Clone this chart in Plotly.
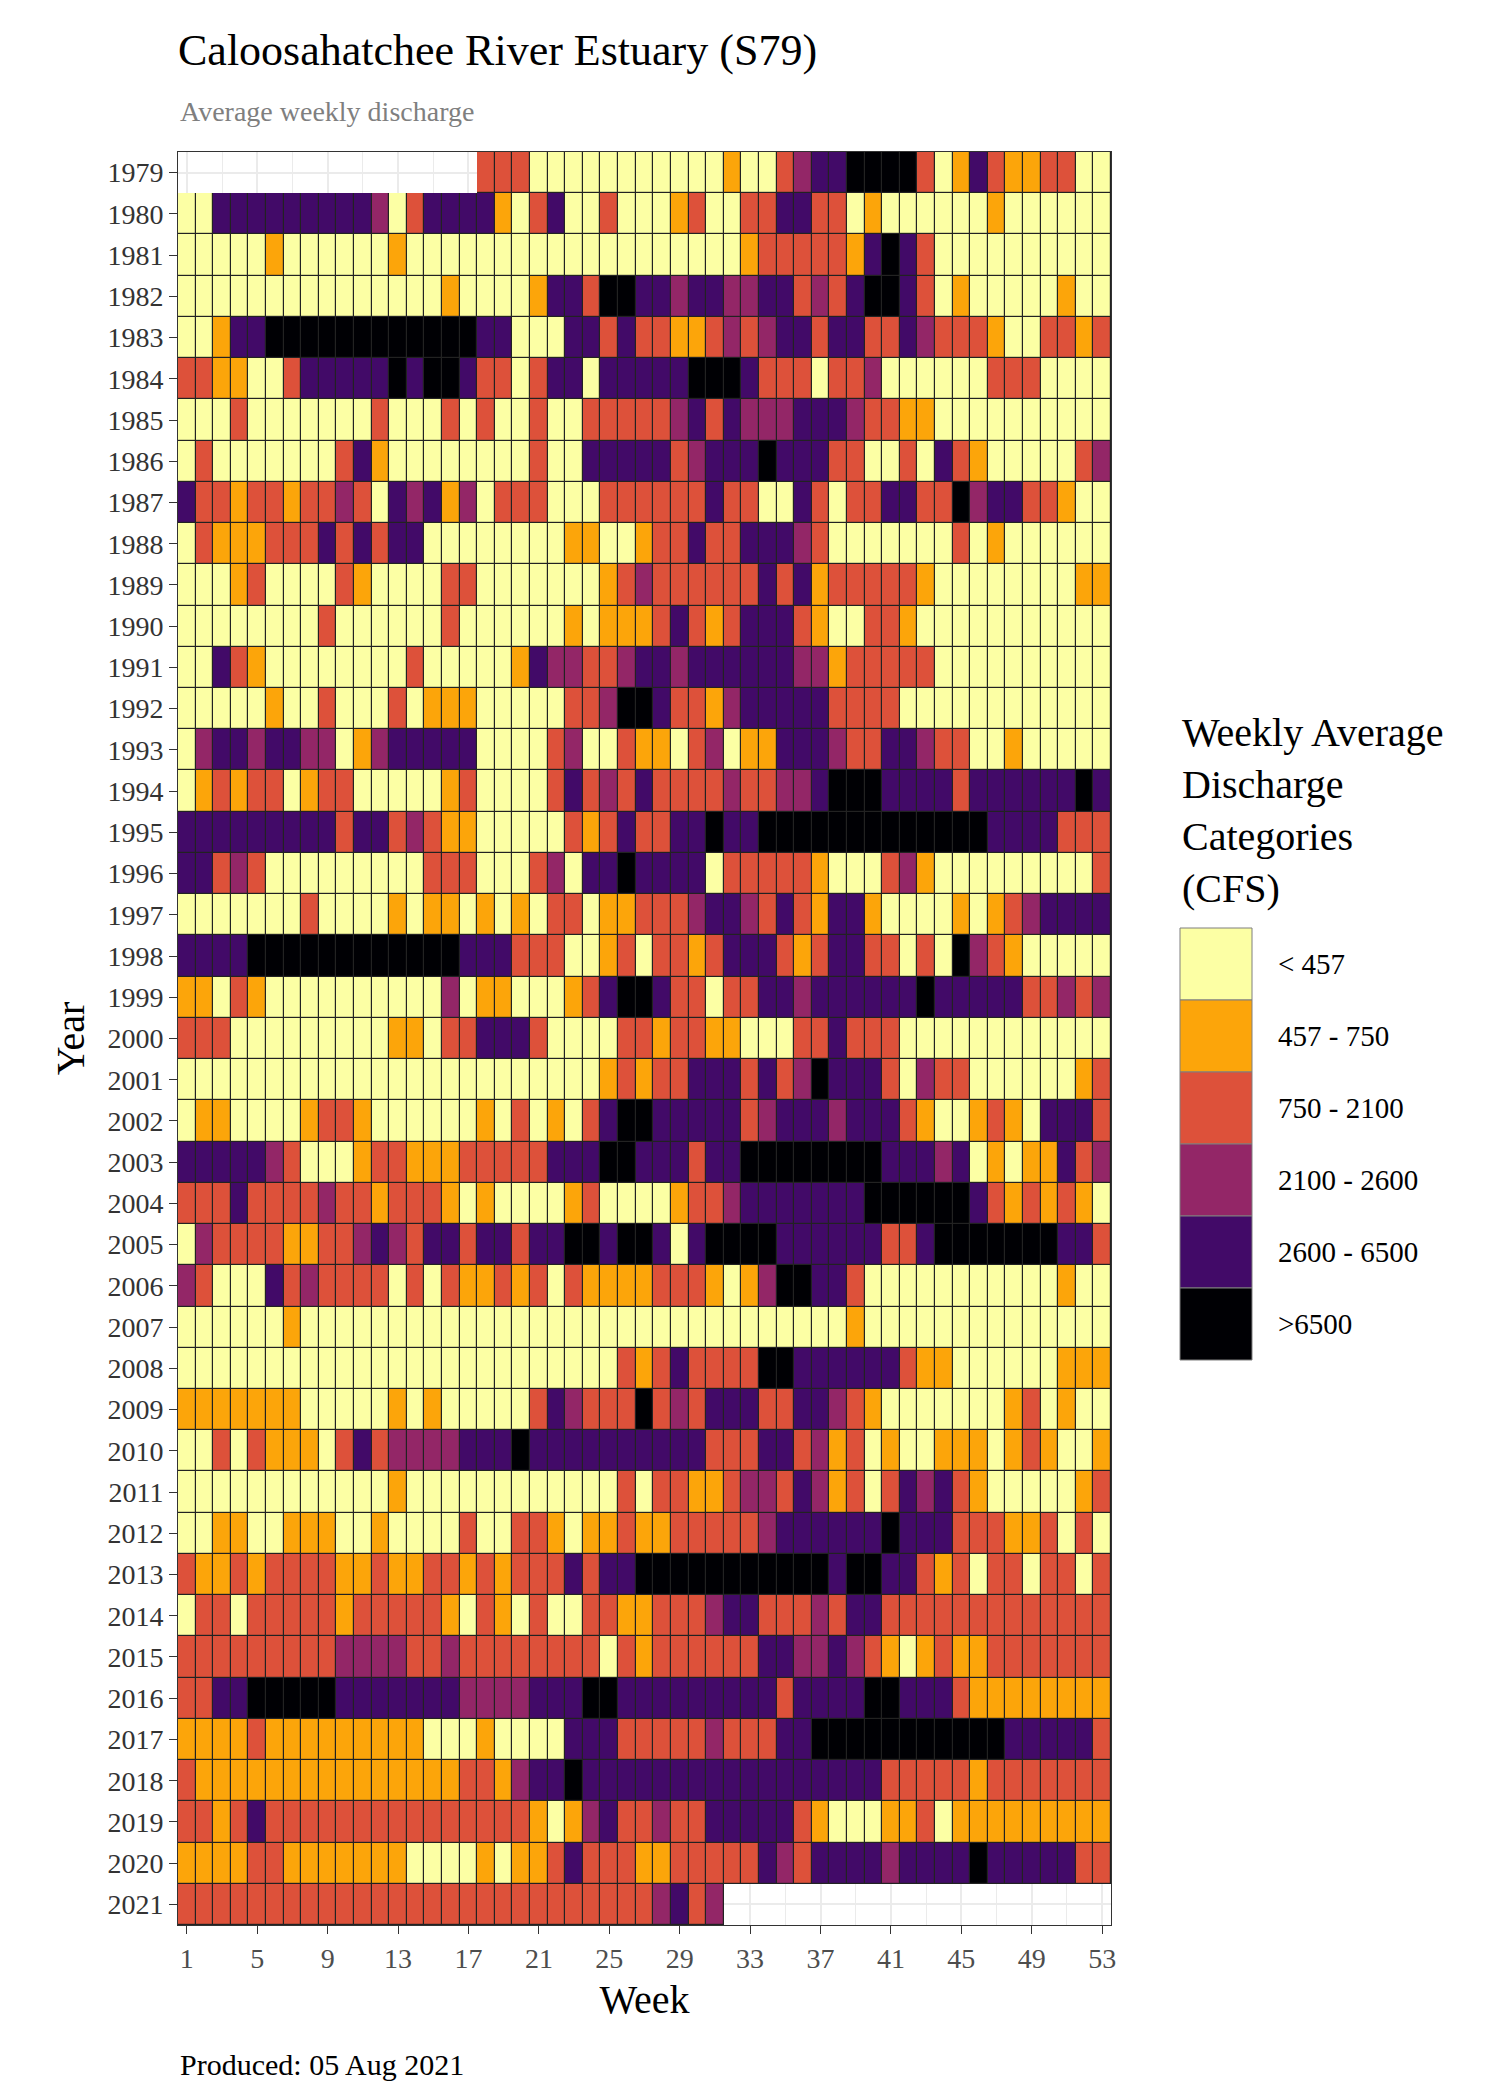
import plotly.graph_objects as go

# Weekly discharge category per year, week 1..53
# Y <457, O 457-750, R 750-2100, M 2100-2600, P 2600-6500, K >6500, . no data
years = list(range(1979, 2022))
weeks = list(range(1, 54))

rows = {
    1979: ". . . . . . . . . . . . . . . . . RRR YYYYYYYYYYY O YY R M PP KKKK R Y O P R OO RR YY",
    1980: "YY PPPPPPPPP M Y R PPPP O Y R P YY R YYY O R YY RR PP RR Y O YYYYYY O YYYYYY",
    1981: "YYYYY O YYYYYY O YYYYYYYYYYYYYYYYYYY O RRRRR O P K P R YYYYYYYYYY",
    1982: "YYYYYYYYYYYYYYY O YYYY O PP R KK PP M PP MM PP R M R P KK P R Y O YYYYY O YY",
    1983: "YY O PP KKKKKKKKKKKK PP YYY PP R P RR OO R M R M PP R PP RR P M RRR O YY RR O R",
    1984: "RR OO YY R PPPPP K P KK P RR Y R PP Y PPPPP KKK P RRR Y RR M YYYYYY RRR YYYY",
    1985: "YYY R YYYYYYY R YYY R Y R YY R YY RRRRR M P R P MMM PPP M RR OO YYYYYYYYYY",
    1986: "Y R YYYYYYY R P O YYYYYYYY R YY PPPPP R M PPP K PPP RR YY R Y P R O YYYYY R M",
    1987: "P RR O RR O RR M R Y P M P O M Y RRR YYY RRRRRR P RR YY P R Y RR PP RR K M PP RR O YY",
    1988: "Y R OOO RRR P R P R PP YYYYYYYY OO YY O RR P RR PPP M R YYYYYYY R Y O YYYYYY",
    1989: "YYY O R YYYY R O YYYY RR YYYYYYY O R M RRRRRR P R P O RRRRR O YYYYYYYY OO",
    1990: "YYYYYYYY R YYYYYY R YYYYYY O Y OOO R P R O R PPP R O YY RR O YYYYYYYYYYY",
    1991: "YY P R O YYYYYYYY R YYYYY O P MM RR M PP M PPPPPP MM O RRRRR YYYYYYYYYY",
    1992: "YYYYY O YY R YYY R Y OOO YYYYY RR M KK P RR O M PPPPP RRRR YYYYYYYYYYYY",
    1993: "Y M PP M PP MM Y O M PPPPP YYYY R M YY R OO Y R M Y OO PPP M RR PP M RR YY O YYYYY",
    1994: "Y O R O RR Y O RR YYYYY O R YYYY R P R M R P RRRR M RR MM P KKK PPPP R PPPPPP K P",
    1995: "PPPPPPPPP R PP R M R OO YYYYY R O R P RR PP K PP KKKKKKKKKKKKK PPPP RRR",
    1996: "PP R M R YYYYYYYYY RRR YYY R M Y PP K PPPP Y RRRRR O YYY R M O YYYYYYYYY R",
    1997: "YYYYYYY R YYYY O Y OO Y O Y O Y RR Y OO RRR M PP M R P R O PP O YYYY O Y O R M PPPP",
    1998: "PPPP KKKKKKKKKKKK PPP RRR YY O R Y RR O R PPP R O R PP RR Y R Y K M R O YYYYY",
    1999: "OO Y R O YYYYYYYYYY M Y OO YYY O R P KK P RR Y RR PP M PPPPPP K PPPPP RR M R M",
    2000: "RRR YYYYYYYYY OO Y RR PPP R YYYY RR O RR OO YYY RR P RRR YYYYYYYYYYYY",
    2001: "YYYYYYYYYYYYYYYYYYYYYYYY O R O RR PPP R P R M K PPP R Y M RR YYYYYY O R",
    2002: "Y OO YYYY O RR O YYYYYY O Y R Y O Y R P KK PPPPP R M PPP M PPP R O YY O R O Y PPP R",
    2003: "PPPPP M R YYY O RR OOO RRRRR PPP KK PPP R PP KKKKKKKK PPP M P Y O Y OO P R M",
    2004: "RRR P RRRR M RR O RRR O Y O YYYY O R YYYY O RR M PPPPPPP KKKKKK P R O R O R O Y",
    2005: "Y M RRRR OO RR M P M R PP R PP R PP KK P KK P Y P KKKK PPPPPP RR P KKKKKKK PP R",
    2006: "M R YYY P R M RRRR Y R Y R OO R O R Y R OOOO RRR O Y O M KK PP R YYYYYYYYYYY O YY",
    2007: "YYYYYY O YYYYYYYYYYYYYYYYYYYYYYYYYYYYYYY O YYYYYYYYYYYYYY",
    2008: "YYYYYYYYYYYYYYYYYYYYYYYYY R O R P RRRR KK PPPPPP R OO YYYYYY OOO",
    2009: "OOOOOOO YYYYY O Y O YYYYY R P M RRR K R M R PPP RR PP M R O YYYYYYY O R Y O YY",
    2010: "YY R Y R OOO Y R P R MMMM PPP K PPPPPPPPPP RRR PP R M O R Y O YY OOO Y O R O YY O",
    2011: "YYYYYYYYYYYY O YYYYYYYYYYYY R Y RR OO R MM R P M O R Y R P M P R O YYYYY O R",
    2012: "YY OO YY OOO YY O YYYY R YY RR O Y OO R OO RRRRR M PPPPPP K PPP RRR OO R Y R Y",
    2013: "R OO R O RRRR OO R OO RR O R O RRR P R PP KKKKKKKKKKK P KK PP R O R Y RR Y RR Y R",
    2014: "Y RR Y RRRRR O RRRRR O Y R O Y R YY RR OO RRR M PP RRR M R PP RRRRRRRRRRRRR",
    2015: "RRRRRRRRR MMMM RR M RRRRRRRR Y R O RRRRRR PP MM P M R O Y O R OO RRRRRRR",
    2016: "RR PP KKKKK PPPPPPP MMMM PPP KK PPPPPPPPP R PPPP KK PPP R OOOOOOOO",
    2017: "OOOO R OOOOOOOOO YYY O YYYY PPP RRRRR M RRR PP KKKKKKKKKKK PPPPP R",
    2018: "R OOOOOOOOOOOOOOO RR O M PP K PPPPPPPPPPPPPPPPP RRRRR O RRRRRRR",
    2019: "RR O R P RRRRRRRRRRRRRRR O Y O M P RR M RR PPPPP R O YYY OO R Y OOOOOOOOO",
    2020: "OOOO RR OOOOOOO YYYY O Y OO R P RRR OO RRRRR P M R PPPP M PPPP K PPPPP RR",
    2021: "RRRRRRRRRRRRRRRRRRRRRRRRRRR M P R M . . . . . . . . . . . . . . . . . . . . . .",
}

codes = ["Y", "O", "R", "M", "P", "K"]
labels = ["< 457", "457 - 750", "750 - 2100", "2100 - 2600", "2600 - 6500", ">6500"]
colors = ["#FCFFA4", "#FCA50A", "#DD513A", "#932667", "#420A68", "#000004"]

z = []
for yr in years:
    s = rows[yr].replace(" ", "")
    s = (s + "." * 53)[:53]
    z.append([codes.index(c) if c in codes else None for c in s])

cscale = []
for i, c in enumerate(colors):
    cscale.append([i / 6, c])
    cscale.append([(i + 1) / 6, c])

mask = [[0 if v is not None else None for v in r] for r in z]

fig = go.Figure()
fig.add_trace(go.Heatmap(x=weeks, y=years, z=mask, colorscale=[[0, "#222222"], [1, "#222222"]],
                         showscale=False, hoverinfo="skip"))
fig.add_trace(go.Heatmap(x=weeks, y=years, z=z, colorscale=cscale, zmin=-0.5, zmax=5.5,
                         xgap=1.2, ygap=1.2, showscale=False))

FONT = "Liberation Serif"
L, R, T, B = 170, 1103, 144, 1917
W, H = 1500, 2100


def px(x):
    return (x - L) / (R - L)


def py(y):
    return (B - y) / (B - T)


# legend drawn manually (ggplot style keys)
ann = []
ann.append(dict(x=px(1172), y=py(700), xref="paper", yref="paper", xanchor="left", yanchor="top",
                text="Weekly Average<br>Discharge<br>Categories<br>(CFS)", showarrow=False, align="left",
                font=dict(family=FONT, size=40, color="black")))
shapes = []
for i, (lab, col) in enumerate(zip(labels, colors)):
    y0 = 920 + i * 72
    shapes.append(dict(type="rect", xref="paper", yref="paper", x0=px(1172), x1=px(1244),
                       y0=py(y0), y1=py(y0 + 72), fillcolor=col, line=dict(color="#7f7f7f", width=1)))
    ann.append(dict(x=px(1268), y=py(y0 + 36), xref="paper", yref="paper", xanchor="left",
                    yanchor="middle", text=lab, showarrow=False,
                    font=dict(family=FONT, size=29, color="black")))

ann.append(dict(x=px(170), y=py(2056), xref="paper", yref="paper", xanchor="left", yanchor="middle",
                text="Produced: 05 Aug 2021", showarrow=False, font=dict(family=FONT, size=30, color="black")))
ann.append(dict(x=px(170), y=py(104), xref="paper", yref="paper", xanchor="left", yanchor="middle",
                text="Average weekly discharge", showarrow=False, font=dict(family=FONT, size=28, color="#7f7f7f")))

fig.update_layout(
    width=W, height=H,
    margin=dict(l=L, r=W - R, t=T, b=H - B),
    paper_bgcolor="white", plot_bgcolor="white",
    title=dict(text="Caloosahatchee River Estuary (S79)", x=L / W, xanchor="left", y=1 - 42 / H,
               yanchor="middle", font=dict(family=FONT, size=44, color="black")),
    font=dict(family=FONT, color="black"),
    annotations=ann, shapes=shapes,
)
fig.update_xaxes(range=[0.5, 53.5], tickvals=list(range(1, 54, 4)), ticks="outside", ticklen=8,
                 tickcolor="#333333", tickfont=dict(size=28, color="#4d4d4d"),
                 showgrid=True, gridcolor="#EBEBEB", gridwidth=2,
                 minor=dict(tickvals=list(range(3, 54, 4)), showgrid=True, gridcolor="#EBEBEB", gridwidth=1),
                 showline=True, mirror=True, linecolor="#333333", linewidth=1, zeroline=False,
                 title=dict(text="Week", font=dict(size=40), standoff=12))
fig.update_yaxes(range=[2021.5, 1978.5], tickvals=years, ticks="outside", ticklen=8,
                 tickcolor="#333333", tickfont=dict(size=28, color="#333333"),
                 showgrid=True, gridcolor="#EBEBEB", gridwidth=2,
                 showline=True, mirror=True, linecolor="#333333", linewidth=1, zeroline=False,
                 title=dict(text="Year", font=dict(size=40), standoff=10))

fig.write_html("out.html")
